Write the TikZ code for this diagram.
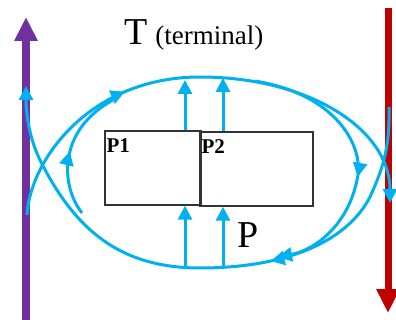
\documentclass[tikz,border=0pt]{standalone}
\usepackage{fontspec}
\setmainfont{Liberation Serif}
\usetikzlibrary{arrows.meta,positioning,decorations.markings}
\definecolor{flowblue}{RGB}{0,176,240}
\definecolor{termpurple}{RGB}{112,48,160}
\definecolor{termred}{RGB}{192,0,0}

\begin{document}
\begin{tikzpicture}[x=1pt, y=-1pt,
    box/.style={draw=black!80, line width=1.4pt, minimum width=#1, minimum height=74pt, inner sep=0pt},
    boxlabel/.style={anchor=north west, inner sep=0pt, font=\bfseries\fontsize{21}{22}\selectfont},
    flow/.style={draw=flowblue, line width=3pt},
    tip/.style={-{Triangle[width=14pt,length=14pt]}},
    midarrow/.style={postaction={decorate}, decoration={markings,
        mark=at position #1 with {\arrow{Triangle[width=14pt,length=14pt]}}}},
    bigarrow/.style={line width=#1, -{Triangle[width=22pt,length=24pt]}}
]
\useasboundingbox (0,0) rectangle (396,320);

% side arrows
\draw[bigarrow=8pt, termpurple] (26,320) -- (26,17);
\draw[bigarrow=7pt, termred] (388,8) -- (388,313);

% the two parts
\node[box=96pt] (p1) at (153,168) {};
\node[box=113pt] (p2) at (256.5,169) {};
\node[boxlabel] at ([shift={(2,8)}]p1.north west) {P1};
\node[boxlabel] at ([shift={(2,8)}]p2.north west) {P2};

% labels
\node[anchor=base west, inner sep=0pt] (tlabel) at (124,45)
    {\fontsize{38}{40}\selectfont T\hspace{8pt}\fontsize{27}{29}\selectfont(terminal)};
\node[anchor=base west, inner sep=0pt] (plabel) at (237,248) {\fontsize{38}{40}\selectfont P};

% points on the loop
\coordinate (upstart) at (27,215);
\coordinate (top) at (200,77);
\coordinate (rend) at (390,203);
\coordinate (rstart) at (389,107);
\coordinate (bot) at (200,268);
\coordinate (lend) at (26,86);
\coordinate (t1) at (185,80);
\coordinate (t2) at (223,78);
\coordinate (b1) at (185,266);
\coordinate (b2) at (223,267);

% loop
\draw[flow, tip, midarrow=165pt] (upstart) .. controls (30,160) and (90,77) .. (top)
    .. controls (310,77) and (390,130) .. (rend);
\draw[flow, tip, midarrow=215pt] (rstart) .. controls (390,150) and (382,170) .. (370,197)
    .. controls (345,245) and (280,268) .. (bot)
    .. controls (120,268) and (75,230) .. (40,160)
    .. controls (30,140) and (26,115) .. (lend);
\draw[flow, midarrow=65pt] (82,213) .. controls (60,185) and (58,130) .. (113,100);
\draw[flow, tip, midarrow=155pt] (255,81) .. controls (340,95) and (365,150) .. (357,180)
    .. controls (348,225) and (315,250) .. (278,257);

% flows through the parts
\draw[flow, tip] (b1) -- (b1 |- p1.south);
\draw[flow, tip] (b2) -- (b2 |- p2.south);
\draw[flow, tip] (t1 |- p1.north) -- (t1);
\draw[flow, tip] (t2 |- p2.north) -- (t2);
\end{tikzpicture}
\end{document}
